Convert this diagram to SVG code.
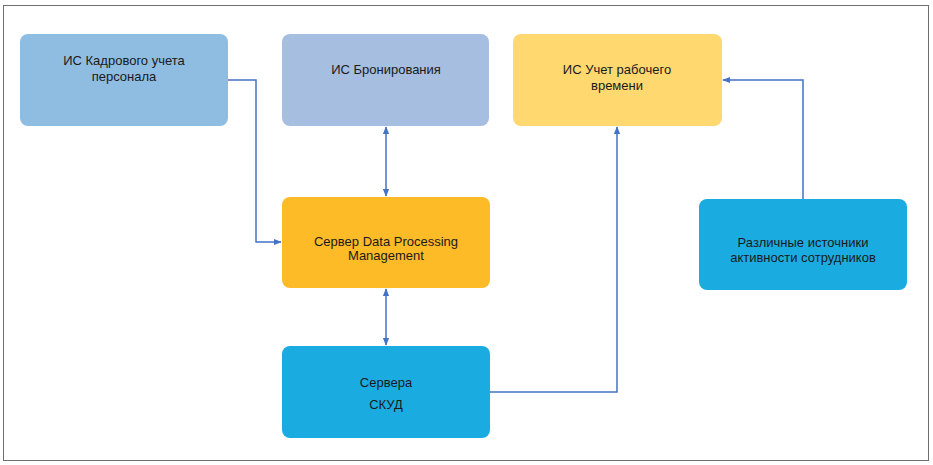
<svg xmlns="http://www.w3.org/2000/svg" width="933" height="465" viewBox="0 0 933 465">
<defs>
<marker id="ah" viewBox="0 0 10 10" refX="9" refY="5" markerWidth="8" markerHeight="8" markerUnits="userSpaceOnUse" orient="auto-start-reverse">
<path d="M0,1 L10,5 L0,9 Z" fill="#4472C4"/>
</marker>
<style>
.t{font-family:"Liberation Sans",Arial,sans-serif;font-size:13px;fill:#1a1a1a;text-anchor:middle}
.c{fill:none;stroke:#4472C4;stroke-width:1.5}
</style>
</defs>
<rect x="0" y="0" width="933" height="465" fill="#fff"/>
<rect x="3.5" y="5.5" width="925" height="455" fill="none" stroke="#6f6f6f" stroke-width="1"/>
<g id="n1"><rect x="20" y="34" width="208" height="92" rx="8" fill="#8FBDE2"/><text class="t" x="124" y="65">ИС Кадрового учета</text><text class="t" x="124" y="81">персонала</text></g>
<g id="n2"><rect x="282" y="34" width="207" height="92" rx="8" fill="#A6BEE0"/><text class="t" x="386" y="74">ИС Бронирования</text></g>
<g id="n3"><rect x="513" y="34" width="209" height="92" rx="8" fill="#FFD86F"/><text class="t" x="617" y="74">ИС Учет рабочего</text><text class="t" x="617" y="90">времени</text></g>
<g id="n4"><rect x="282" y="197" width="208" height="91" rx="8" fill="#FDBB28"/><text class="t" x="386" y="246">Сервер Data Processing</text><text class="t" x="386" y="260">Management</text></g>
<g id="n5"><rect x="282" y="346" width="208" height="92" rx="8" fill="#1AACE1"/><text class="t" x="386" y="387">Сервера</text><text class="t" x="386" y="409">СКУД</text></g>
<g id="n6"><rect x="699" y="199" width="208" height="91" rx="8" fill="#1AACE1"/><text class="t" x="803" y="247">Различные источники</text><text class="t" x="803" y="262">активности сотрудников</text></g>
<g id="connectors">
<path class="c" d="M228,80 H256 V242 H281" marker-end="url(#ah)"/>
<path class="c" d="M386,127 V196" marker-start="url(#ah)" marker-end="url(#ah)"/>
<path class="c" d="M386,289 V345" marker-start="url(#ah)" marker-end="url(#ah)"/>
<path class="c" d="M490,392 H617 V127" marker-end="url(#ah)"/>
<path class="c" d="M803,199 V80 H723" marker-end="url(#ah)"/>
</g>
</svg>
